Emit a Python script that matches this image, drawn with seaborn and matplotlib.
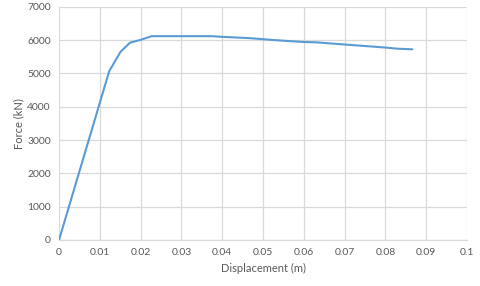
import pandas as pd
import matplotlib.pyplot as plt
import seaborn as sns

# force-displacement curve
displacement = [0, 0.0123, 0.0151, 0.0174, 0.0200, 0.0227, 0.0300, 0.0374, 0.0399,
                0.0468, 0.0530, 0.0599, 0.0630, 0.0700, 0.0803, 0.0828, 0.0866]
force = [0, 5070, 5655, 5925, 6010, 6120, 6120, 6120, 6100,
         6060, 6000, 5945, 5935, 5870, 5775, 5745, 5725]

xticks = [0, 0.01, 0.02, 0.03, 0.04, 0.05, 0.06, 0.07, 0.08, 0.09, 0.1]
xticklabels = ['0', '0.01', '0.02', '0.03', '0.04', '0.05', '0.06', '0.07', '0.08', '0.09', '0.1']
yticks = [0, 1000, 2000, 3000, 4000, 5000, 6000, 7000]

df = pd.DataFrame({'Displacement (m)': displacement, 'Force (kN)': force})

sns.set_style('white')
plt.rcParams['font.family'] = ['Lato', 'DejaVu Sans']
txt = '#595959'
grid = '#d9d9d9'

fig = plt.figure(figsize=(4.8, 2.86), dpi=100)
ax = fig.add_axes([0.123, 0.161, 0.850, 0.815])
sns.lineplot(data=df, x='Displacement (m)', y='Force (kN)', ax=ax,
             color='#5b9bd5', linewidth=1.5, sort=False, zorder=3)

ax.set_xlim(0, 0.1)
ax.set_ylim(0, 7000)
ax.set_xticks(xticks)
ax.set_xticklabels(xticklabels)
ax.set_yticks(yticks)
ax.grid(True, color=grid, linewidth=0.9)
for s in ['top', 'right', 'left']:
    ax.spines[s].set_visible(False)
ax.spines['bottom'].set_color(grid)
ax.spines['bottom'].set_linewidth(0.9)
ax.tick_params(length=0, labelsize=7.5, colors=txt, pad=6)
ax.set_xlabel('Displacement (m)', fontsize=8, color=txt, labelpad=4)
ax.set_ylabel('Force (kN)', fontsize=8, color=txt, labelpad=2)

fig.savefig('out.png', dpi=100)
